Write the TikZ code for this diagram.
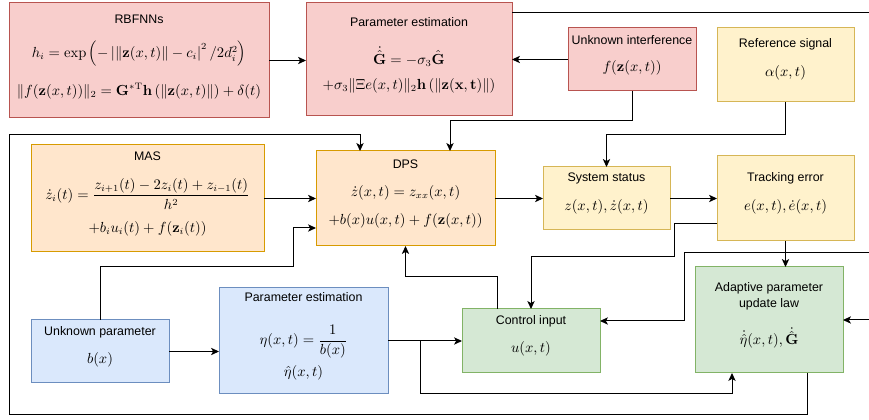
\documentclass[tikz,border=0pt]{standalone}
\usepackage{amsmath,amssymb}
\usepackage[no-math]{fontspec}
\newfontfamily\labfont{Liberation Sans}
\usetikzlibrary{arrows.meta,calc}
\definecolor{pinkF}{HTML}{F8CECC}\definecolor{pinkD}{HTML}{B85450}
\definecolor{orF}{HTML}{FFE6CC}\definecolor{orD}{HTML}{D79B00}
\definecolor{yeF}{HTML}{FFF2CC}\definecolor{yeD}{HTML}{D6B656}
\definecolor{grF}{HTML}{D5E8D4}\definecolor{grD}{HTML}{82B366}
\definecolor{blF}{HTML}{DAE8FC}\definecolor{blD}{HTML}{6C8EBF}
\tikzset{
  bx/.style={draw, inner sep=0pt, outer sep=0pt, line width=0.75pt},
  pinkbox/.style={bx, fill=pinkF, draw=pinkD},
  orbox/.style={bx, fill=orF, draw=orD},
  yebox/.style={bx, fill=yeF, draw=yeD},
  grbox/.style={bx, fill=grF, draw=grD},
  blbox/.style={bx, fill=blF, draw=blD},
  ttl/.style={font=\labfont\fontsize{9.3}{12}\selectfont, inner sep=0pt, align=center},
  mth/.style={font=\fontsize{10.5}{12}\selectfont, inner sep=0pt},
  ln/.style={line width=0.75pt, draw=black},
  arr/.style={ln, -{Stealth[length=6pt,width=5.5pt,inset=1.6pt]}},
}
\newcommand\mkbox[6]{\node[#1, minimum width={(#5-#3)*0.75pt}, minimum height={(#6-#4)*0.75pt}] (#2) at ({(#3+#5)/2},{(#4+#6)/2}) {};}
\begin{document}
\begin{tikzpicture}[x=0.75pt,y=-0.75pt]
\useasboundingbox (0,0) rectangle (869,420);
% boxes
\mkbox{pinkbox}{rbf}{9}{3}{269}{118}
\mkbox{pinkbox}{pe1}{306}{3}{512}{116}
\mkbox{pinkbox}{ui}{568}{28}{696}{91}
\mkbox{yebox}{ref}{717}{28}{854}{102}
\mkbox{orbox}{mas}{31}{145}{264}{252}
\mkbox{orbox}{dps}{316}{151}{495}{246}
\mkbox{yebox}{sys}{543}{167}{670}{230}
\mkbox{yebox}{trk}{717}{156}{854}{241}
\mkbox{grbox}{ada}{695}{267}{843}{373}
\mkbox{grbox}{ctl}{462}{309}{600}{373}
\mkbox{blbox}{upar}{31}{320}{169}{383}
\mkbox{blbox}{pe2}{219}{288}{388}{394}
% texts
\node[ttl] (rbfT) at (139,19) {RBFNNs};
\node[mth] (rbfA) at (139,54) {$h_i=\exp\left(-\left|\|\mathbf{z}(x,t)\|-c_i\right|^2/2d_i^2\right)$};
\node[mth] (rbfB) at (139,91) {$\|f(\mathbf{z}(x,t))\|_2=\mathbf{G}^{*\mathrm{T}}\mathbf{h}\left(\|\mathbf{z}(x,t)\|\right)+\delta(t)$};
\node[ttl] (pe1T) at (409,22) {Parameter estimation};
\node[mth] (pe1A) at (409,57) {$\dot{\hat{\mathbf{G}}}=-\sigma_3\hat{\mathbf{G}}$};
\node[mth] (pe1B) at (409,86) {$+\sigma_3\|\Xi e(x,t)\|_2\mathbf{h}\left(\|\mathbf{z(x,t)}\|\right)$};
\node[ttl] (uiT) at (632,40) {Unknown interference};
\node[mth] (uiA) at (632,68) {$f(\mathbf{z}(x,t))$};
\node[ttl] (refT) at (785.5,44) {Reference signal};
\node[mth] (refA) at (785.5,73) {$\alpha(x,t)$};
\node[ttl] (masT) at (147.5,156) {MAS};
\node[mth] (masA) at (147.5,194) {$\dot z_i(t)=\dfrac{z_{i+1}(t)-2z_i(t)+z_{i-1}(t)}{h^2}$};
\node[mth] (masB) at (147.5,229) {$+b_iu_i(t)+f(\mathbf{z}_i(t))$};
\node[ttl] (dpsT) at (405.5,164) {DPS};
\node[mth] (dpsA) at (405.5,193) {$\dot z(x,t)=z_{xx}(x,t)$};
\node[mth] (dpsB) at (405.5,221) {$+b(x)u(x,t)+f(\mathbf{z}(x,t))$};
\node[ttl] (sysT) at (606.5,178) {System status};
\node[mth] (sysA) at (606.5,207) {$z(x,t),\dot z(x,t)$};
\node[ttl] (trkT) at (785.5,178) {Tracking error};
\node[mth] (trkA) at (785.5,207) {$e(x,t),\dot e(x,t)$};
\node[ttl] (adaT) at (769,296) {Adaptive parameter\\update law};
\node[mth] (adaA) at (769,338) {$\dot{\hat\eta}(x,t),\dot{\hat{\mathbf{G}}}$};
\node[ttl] (ctlT) at (531,321) {Control input};
\node[mth] (ctlA) at (531,349) {$u(x,t)$};
\node[ttl] (uparT) at (100,332) {Unknown parameter};
\node[mth] (uparA) at (100,360) {$b(x)$};
\node[ttl] (pe2T) at (303.5,297) {Parameter estimation};
\node[mth] (pe2A) at (303.5,342) {$\eta(x,t)=\dfrac{1}{b(x)}$};
\node[mth] (pe2B) at (303.5,373) {$\hat\eta(x,t)$};
% free ends / bends
\coordinate (e1) at (869,13);
\coordinate (e2) at (869,320);
\coordinate (e3) at (869,253);
\coordinate (c1) at (450,121);
\coordinate (c2) at (606.5,135);
\coordinate (c3) at (684,253);
\coordinate (j) at (420,341);
% connectors
\draw[arr] (rbf.east) -- (rbf.east -| pe1.west);
\draw[arr] (ui.west) -- (ui.west -| pe1.east);
\draw[arr] (ui.south) |- (c1) -- (c1 |- dps.north);
\draw[arr] (ref.south) |- (c2) -- (sys.north);
\draw[ln] (pe1.east |- e1) -- (e1);
\draw[arr] (e2) -- (e2 -| ada.east);
\draw[arr] (e3) -- (c3) |- (ctl.east |- 0,321);
\draw[arr] (trk.west |- 0,224) -- (674,224) -- (674,257) -| (ctl.north);
\draw[arr] (497,0 |- ctl.north) |- (405.5,277) -- (dps.south);
\draw[arr] (dps.east) -- (sys.west);
\draw[arr] (sys.east) -- (trk.west);
\draw[arr] (trk.south) -- (trk.south |- ada.north);
\draw[arr] (mas.east) -- (dps.west);
\draw[arr] (upar.north) |- (293,267) |- (dps.west |- 0,228);
\draw[arr] (807,0 |- ada.south) |- (9,415) |- (360,135) -- (360,0 |- dps.north);
\draw[arr] (upar.east) -- (upar.east -| pe2.west);
\draw[arr] (pe2.east) -- (ctl.west);
\draw[arr] (j) |- (732,394) -- (732,0 |- ada.south);
\end{tikzpicture}
\end{document}
